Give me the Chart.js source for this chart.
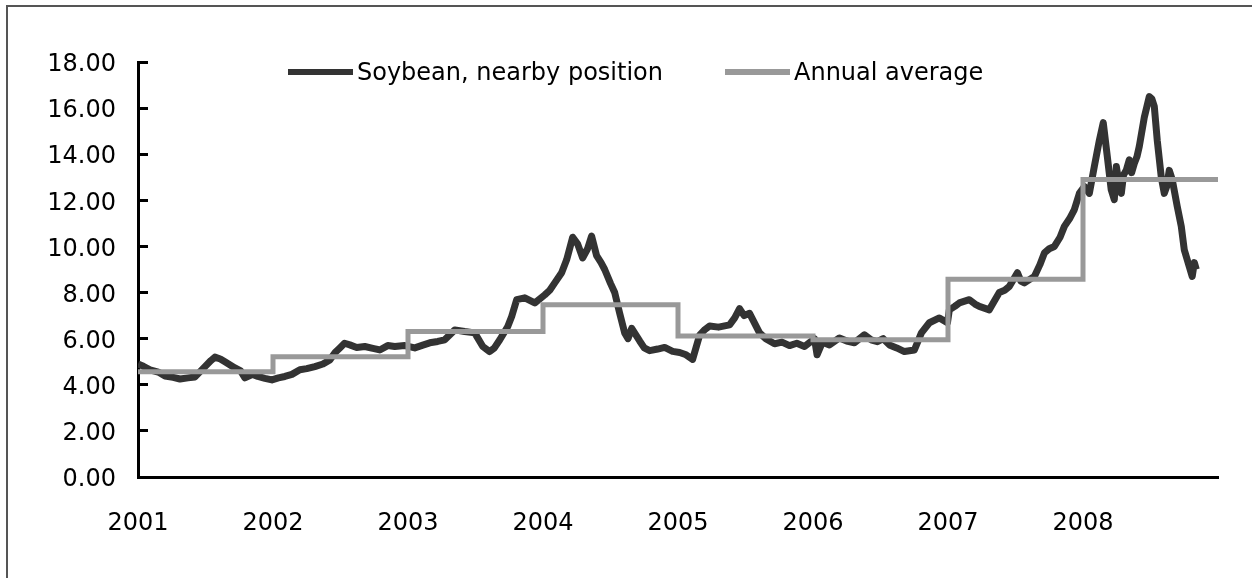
<!DOCTYPE html>
<html>
<head>
<meta charset="utf-8">
<script src="https://cdn.jsdelivr.net/npm/chart.js@4.4.1/dist/chart.umd.min.js"></script>
<style>
  html, body { margin: 0; padding: 0; background: #fff; }
  #wrap { position: relative; width: 1252px; height: 578px; overflow: hidden; }
  canvas { position: absolute; left: 0; top: 0; }
  #frame {
    position: absolute; left: 6px; top: 5px; width: 1300px; height: 700px;
    border-left: 2px solid #555; border-top: 2px solid #555;
    z-index: 2; pointer-events: none;
  }
</style>
</head>
<body>
<div id="wrap">
  <canvas id="chart" width="1252" height="578"></canvas>
  <div id="frame"></div>
</div>
<script>
// ---------------------------------------------------------------------------
// Data (decimal year, $/bushel)
// ---------------------------------------------------------------------------

const soyDates = [
  2001.000, 2001.040, 2001.089, 2001.150, 2001.200, 2001.260, 2001.311, 2001.370,
  2001.422, 2001.496, 2001.540, 2001.570, 2001.610, 2001.644, 2001.718, 2001.760,
  2001.792, 2001.850, 2001.888, 2001.940, 2001.992, 2002.040, 2002.088, 2002.140,
  2002.199, 2002.250, 2002.310, 2002.370, 2002.421, 2002.460, 2002.495, 2002.530,
  2002.569, 2002.620, 2002.680, 2002.740, 2002.791, 2002.850, 2002.902, 2002.976,
  2003.050, 2003.110, 2003.161, 2003.220, 2003.272, 2003.346, 2003.420, 2003.494,
  2003.554, 2003.605, 2003.640, 2003.680, 2003.739, 2003.768, 2003.805, 2003.865,
  2003.939, 2004.013, 2004.050, 2004.087, 2004.138, 2004.175, 2004.220, 2004.257,
  2004.294, 2004.330, 2004.360, 2004.397, 2004.430, 2004.457, 2004.500, 2004.531,
  2004.568, 2004.605, 2004.630, 2004.657, 2004.716, 2004.750, 2004.790, 2004.850,
  2004.901, 2004.960, 2005.012, 2005.060, 2005.108, 2005.160, 2005.200, 2005.234,
  2005.300, 2005.382, 2005.420, 2005.456, 2005.490, 2005.530, 2005.604, 2005.650,
  2005.715, 2005.770, 2005.826, 2005.880, 2005.937, 2006.011, 2006.030, 2006.070,
  2006.122, 2006.196, 2006.250, 2006.307, 2006.381, 2006.430, 2006.477, 2006.520,
  2006.566, 2006.620, 2006.677, 2006.751, 2006.803, 2006.862, 2006.936, 2006.996,
  2007.010, 2007.050, 2007.084, 2007.158, 2007.200, 2007.232, 2007.306, 2007.340,
  2007.380, 2007.420, 2007.454, 2007.514, 2007.540, 2007.566, 2007.640, 2007.680,
  2007.714, 2007.750, 2007.788, 2007.830, 2007.862, 2007.900, 2007.936, 2007.973,
  2008.010, 2008.047, 2008.084, 2008.121, 2008.150, 2008.180, 2008.209, 2008.232,
  2008.247, 2008.265, 2008.284, 2008.300, 2008.320, 2008.343, 2008.360, 2008.380,
  2008.400, 2008.417, 2008.454, 2008.491, 2008.510, 2008.528, 2008.550, 2008.580,
  2008.602, 2008.620, 2008.639, 2008.661, 2008.698, 2008.728, 2008.750, 2008.787,
  2008.809, 2008.825, 2008.839,
];

const soyPrices = [
  4.90, 4.80, 4.65, 4.55, 4.38, 4.32, 4.25, 4.30,
  4.34, 4.79, 5.05, 5.20, 5.12, 5.00, 4.73, 4.60,
  4.30, 4.45, 4.36, 4.28, 4.21, 4.30, 4.36, 4.45,
  4.65, 4.70, 4.79, 4.90, 5.08, 5.40, 5.60, 5.80,
  5.73, 5.62, 5.66, 5.58, 5.51, 5.70, 5.66, 5.70,
  5.60, 5.72, 5.82, 5.88, 5.95, 6.38, 6.31, 6.25,
  5.66, 5.44, 5.60, 5.95, 6.53, 6.96, 7.69, 7.77,
  7.55, 7.90, 8.10, 8.42, 8.86, 9.42, 10.40, 10.10,
  9.50, 9.90, 10.45, 9.60, 9.30, 9.00, 8.40, 8.00,
  7.10, 6.25, 6.00, 6.45, 5.90, 5.60, 5.48, 5.55,
  5.62, 5.45, 5.40, 5.30, 5.10, 6.15, 6.40, 6.55,
  6.50, 6.60, 6.90, 7.30, 7.00, 7.10, 6.25, 6.00,
  5.78, 5.85, 5.70, 5.80, 5.66, 6.00, 5.30, 5.85,
  5.73, 6.03, 5.90, 5.82, 6.17, 5.95, 5.87, 6.00,
  5.73, 5.60, 5.44, 5.51, 6.25, 6.69, 6.90, 6.69,
  7.25, 7.40, 7.55, 7.69, 7.50, 7.40, 7.25, 7.60,
  8.00, 8.10, 8.26, 8.86, 8.50, 8.42, 8.70, 9.20,
  9.72, 9.90, 10.00, 10.40, 10.87, 11.20, 11.60, 12.30,
  12.60, 12.30, 13.47, 14.60, 15.37, 13.90, 12.46, 12.03,
  13.47, 12.80, 12.30, 13.10, 13.30, 13.76, 13.20, 13.60,
  13.90, 14.34, 15.60, 16.50, 16.40, 16.08, 14.60, 13.00,
  12.30, 12.60, 13.30, 12.90, 11.74, 10.87, 9.86, 9.13,
  8.70, 9.30, 9.00,
];

const avgYears  = [2001, 2002, 2003, 2004, 2005, 2006, 2007, 2008, 2009];
const avgPrices = [4.57, 5.22, 6.31, 7.47, 6.12, 5.95, 8.58, 12.90, 12.90];

const yearTicks = [2001, 2002, 2003, 2004, 2005, 2006, 2007, 2008];

// ---------------------------------------------------------------------------
// Legend drawn inside the plot, lines + labels
// ---------------------------------------------------------------------------

const FONT_FAMILY = '"DejaVu Sans", sans-serif';
const legendX = [288, 725];

const inlineLegendPlugin = {
  id: 'inlineLegend',
  afterDraw(chart) {
    const { ctx } = chart;
    const y = 72;
    chart.data.datasets.forEach((ds, i) => {
      const x = legendX[i];
      ctx.save();
      ctx.strokeStyle = ds.borderColor;
      ctx.lineWidth   = 6;
      ctx.beginPath();
      ctx.moveTo(x, y);
      ctx.lineTo(x + 65, y);
      ctx.stroke();
      ctx.fillStyle    = '#000';
      ctx.font         = '24px ' + FONT_FAMILY;
      ctx.textAlign    = 'left';
      ctx.textBaseline = 'middle';
      ctx.fillText(ds.label, x + 69, y + 2);
      ctx.restore();
    });
  },
};

// ---------------------------------------------------------------------------
// Chart
// ---------------------------------------------------------------------------

new Chart(document.getElementById('chart'), {
  type: 'line',
  data: {
    datasets: [
      {
        label: 'Soybean, nearby position',
        data: soyDates.map((d, i) => ({ x: d, y: soyPrices[i] })),
        borderColor: '#333333',
        borderWidth: 7,
        borderJoinStyle: 'round',
        pointRadius: 0,
        tension: 0,
        order: 2,
      },
      {
        label: 'Annual average',
        data: avgYears.map((d, i) => ({ x: d, y: avgPrices[i] })),
        borderColor: '#999999',
        borderWidth: 5,
        stepped: 'before',
        pointRadius: 0,
        order: 1,
      },
    ],
  },
  plugins: [inlineLegendPlugin],
  options: {
    responsive: false,
    animation: false,
    layout: { padding: { left: 0, right: 34, top: 62, bottom: 0 } },
    plugins: { legend: { display: false }, tooltip: { enabled: false } },
    scales: {
      x: {
        type: 'linear',
        min: 2001,
        max: 2009,
        afterBuildTicks: (scale) => { scale.ticks = yearTicks.map(v => ({ value: v })); },
        afterFit: (scale) => { scale.height = 101; },
        ticks: {
          color: '#000',
          font: { family: FONT_FAMILY, size: 24 },
          padding: 32,
          maxRotation: 0,
          autoSkip: false,
          callback: (v) => String(v),
        },
        grid: { display: false, drawTicks: false },
        border: { display: true, color: '#000', width: 3 },
      },
      y: {
        min: 0,
        max: 18,
        afterFit: (scale) => { scale.width = 138; },
        ticks: {
          stepSize: 2,
          color: '#000',
          font: { family: FONT_FAMILY, size: 24 },
          padding: 32,
          labelOffset: 3,
          callback: (v) => v.toFixed(2),
        },
        grid: {
          display: true,
          drawOnChartArea: false,
          drawTicks: true,
          tickLength: -10,
          color: '#000',
          lineWidth: 3,
        },
        border: { display: true, color: '#000', width: 3 },
      },
    },
  },
});
</script>
</body>
</html>
